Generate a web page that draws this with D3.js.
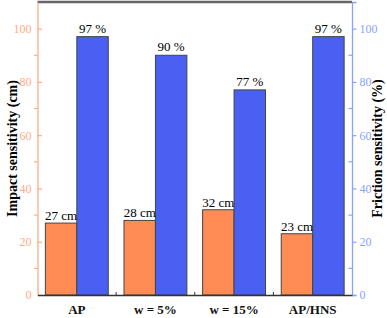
<!DOCTYPE html>
<html>
<head>
<meta charset="utf-8">
<script src="https://cdn.jsdelivr.net/npm/d3@7"></script>
<style>
  body { margin: 0; background: #fff; }
  svg { display: block; font-family: "Liberation Serif", "DejaVu Serif", serif; }
</style>
</head>
<body>
<svg id="chart" width="387" height="318"></svg>
<script>
// values
const categories = ["AP", "w = 5%", "w = 15%", "AP/HNS"];
const impact = [27, 28, 32, 23];      // cm, left axis
const friction = [97, 90, 77, 97];    // %, right axis
const yTicks = [0, 20, 40, 60, 80, 100];
const yMinor = [10, 30, 50, 70, 90];

const ORANGE = "#ff8c55", BLUE = "#4a60f2";
const AX_OR = "#ffab85", AX_BL = "#8aa2ff";

const svg = d3.select("#chart");
const pLeft = 37.5, pRight = 352, pTop = 2, pBottom = 295;

const x = d3.scaleBand().domain(categories).range([pLeft, pRight])
    .paddingInner(0.2).paddingOuter(0.1);
const y = d3.scaleLinear().domain([0, 110]).range([pBottom, pTop]);
const bw = x.bandwidth() / 2;

// bars
const g = svg.append("g");
categories.forEach((c, i) => {
    g.append("rect")
        .attr("x", x(c)).attr("y", y(impact[i]))
        .attr("width", bw).attr("height", y(0) - y(impact[i]))
        .attr("fill", ORANGE).attr("stroke", "#444").attr("stroke-width", 1);
    g.append("rect")
        .attr("x", x(c) + bw).attr("y", y(friction[i]))
        .attr("width", bw).attr("height", y(0) - y(friction[i]))
        .attr("fill", BLUE).attr("stroke", "#444").attr("stroke-width", 1);
    g.append("text")
        .attr("x", x(c) + bw / 2).attr("y", y(impact[i]) - 3)
        .attr("text-anchor", "middle").attr("font-size", 13)
        .text(impact[i] + " cm");
    g.append("text")
        .attr("x", x(c) + bw * 1.5).attr("y", y(friction[i]) - 4)
        .attr("text-anchor", "middle").attr("font-size", 13)
        .text(friction[i] + " %");
});

// top frame line
svg.append("line").attr("x1", pLeft).attr("x2", pRight)
    .attr("y1", pTop).attr("y2", pTop)
    .attr("stroke", "#666").attr("stroke-width", 2.5);

// left axis (major ticks inward, minor outward)
const la = svg.append("g").attr("transform", `translate(${pLeft},0)`)
    .call(d3.axisLeft(y).tickValues(yTicks).tickSize(0).tickPadding(6));
la.select(".domain").attr("stroke", AX_OR).attr("stroke-width", 1.3);
la.selectAll("text").attr("fill", AX_OR).attr("font-size", 12)
    .attr("font-family", "Liberation Serif");
la.selectAll(".tick").append("line").attr("x1", 0).attr("x2", 4.5).attr("stroke", AX_OR).attr("stroke-width", 1.2);
la.selectAll(".minor").data(yMinor).enter().append("line")
    .attr("x1", -3.5).attr("x2", 0).attr("y1", d => y(d)).attr("y2", d => y(d))
    .attr("stroke", AX_OR).attr("stroke-width", 1.2);

// right axis (major outward, minor inward)
const ra = svg.append("g").attr("transform", `translate(${pRight},0)`)
    .call(d3.axisRight(y).tickValues(yTicks).tickSize(4.5).tickPadding(3));
ra.select(".domain").attr("stroke", AX_BL).attr("stroke-width", 1.3);
ra.selectAll(".tick line").attr("stroke", AX_BL).attr("stroke-width", 1.2);
ra.selectAll("text").attr("fill", AX_BL).attr("font-size", 12)
    .attr("font-family", "Liberation Serif");
ra.selectAll(".minor").data(yMinor).enter().append("line")
    .attr("x1", -3.5).attr("x2", 0).attr("y1", d => y(d)).attr("y2", d => y(d))
    .attr("stroke", AX_BL).attr("stroke-width", 1.2);

// bottom axis
const bx = svg.append("g").attr("transform", `translate(0,${pBottom})`)
    .call(d3.axisBottom(x).tickSize(0).tickPadding(10));
bx.select(".domain").attr("stroke", "#333").attr("stroke-width", 1.5);
bx.selectAll("text").attr("fill", "#111").attr("font-size", 13)
    .attr("font-weight", "bold").attr("font-family", "Liberation Serif");
const step = x.step();
bx.selectAll(".sep").data(categories.slice(1)).enter().append("line")
    .attr("x1", d => x(d) - (step - x.bandwidth()) / 2)
    .attr("x2", d => x(d) - (step - x.bandwidth()) / 2)
    .attr("y1", -3).attr("y2", 0).attr("stroke", "#333");

// axis titles
const midY = (pTop + pBottom) / 2;
svg.append("text")
    .attr("transform", `translate(17,${midY}) rotate(-90)`)
    .attr("text-anchor", "middle").attr("font-size", 14).attr("font-weight", "bold")
    .text("Impact sensitivity (cm)");
svg.append("text")
    .attr("transform", `translate(382,${midY}) rotate(-90)`)
    .attr("text-anchor", "middle").attr("font-size", 14).attr("font-weight", "bold")
    .text("Friction sensitivity (%)");
</script>
</body>
</html>
